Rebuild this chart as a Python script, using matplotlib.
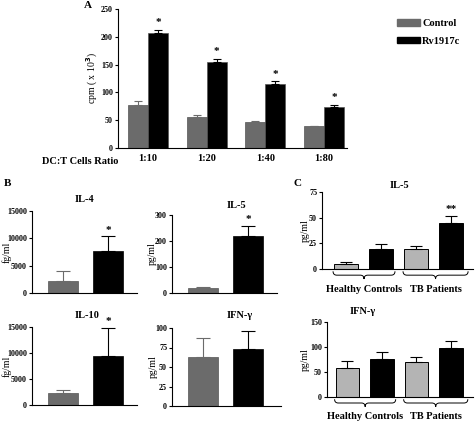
import matplotlib
matplotlib.use('Agg')
import matplotlib.pyplot as plt
from matplotlib.patches import Patch, PathPatch
from matplotlib.path import Path
import matplotlib.transforms as mtransforms
import numpy as np

plt.rcParams['font.family'] = ['Liberation Serif', 'DejaVu Serif']
plt.rcParams['font.weight'] = 'bold'
plt.rcParams['axes.linewidth'] = 0.8

W, H = 477, 421

# panel A data
ratios = ['1:10', '1:20', '1:40', '1:80']
a_control = [78, 56, 46, 39]
a_control_err = [6, 3, 2, 1]
a_rv = [207, 155, 115, 73]
a_rv_err = [5, 5, 5, 4]

# panel B data (control, Rv1917c)
il4 = [2200, 7700]
il4_err = [1800, 2700]
il5_b = [20, 220]
il5_b_err = [3, 38]
il10 = [2300, 9400]
il10_err = [600, 5400]
ifn_b = [63, 73]
ifn_b_err = [24, 23]

# panel C data (HC control, HC Rv, TB control, TB Rv)
il5_c = [5, 19.5, 19.5, 45]
il5_c_err = [2, 4.5, 3, 6.5]
ifn_c = [58, 76, 70, 99]
ifn_c_err = [15, 14, 11, 13]

gray_a = '#6b6b6b'
gray_c = '#b4b4b4'


def px_axes(left, top, right, bottom):
    return [left / W, 1 - bottom / H, (right - left) / W, (bottom - top) / H]


def ftext(x, y, s, **kw):
    fig.text(x / W, 1 - y / H, s, ha=kw.pop('ha', 'center'), va=kw.pop('va', 'center'), **kw)


def style(ax, yticks, ylim):
    ax.spines['top'].set_visible(False)
    ax.spines['right'].set_visible(False)
    ax.set_ylim(*ylim)
    ax.set_yticks(yticks)
    ax.tick_params(axis='y', length=2.5, width=0.8, labelsize=5.8, pad=1)
    ax.tick_params(axis='x', length=0)
    ax.set_xticks([])


def set_ylab(ax, rect, text, xpix):
    ax.set_ylabel(text, fontsize=7, va='center')
    ax.yaxis.set_label_coords((xpix - rect[0]) / (rect[2] - rect[0]), 0.5)


def brace(ax, x0, x1, ytop=-0.03, ybot=-0.13):
    trans = mtransforms.blended_transform_factory(ax.transData, ax.transAxes)
    xc = (x0 + x1) / 2
    ym = (ytop + ybot) / 2
    r = (x1 - x0) * 0.06
    verts = [(x0, ytop), (x0, ym), (x0 + r, ym), (xc - r, ym), (xc, ym), (xc, ybot),
             (xc, ym), (xc + r, ym), (x1 - r, ym), (x1, ym), (x1, ytop)]
    codes = [Path.MOVETO, Path.CURVE3, Path.CURVE3, Path.LINETO, Path.CURVE3, Path.CURVE3,
             Path.CURVE3, Path.CURVE3, Path.LINETO, Path.CURVE3, Path.CURVE3]
    p = PathPatch(Path(verts, codes), fill=False, lw=0.7, color='black',
                  transform=trans, clip_on=False)
    ax.add_patch(p)


fig = plt.figure(figsize=(W / 100, H / 100), dpi=100)

# ---- panel A
rectA = (118, 9, 347, 148)
axA = fig.add_axes(px_axes(*rectA))
x = np.arange(len(ratios))
bw = 0.34
axA.bar(x - bw / 2, a_control, bw, color=gray_a, edgecolor='#555555', lw=0.5,
        yerr=[np.zeros(4), a_control_err], error_kw=dict(ecolor=gray_a, capsize=3, elinewidth=0.8, capthick=0.8))
axA.bar(x + bw / 2, a_rv, bw, color='black', edgecolor='#555555', lw=0.5,
        yerr=[np.zeros(4), a_rv_err], error_kw=dict(ecolor='black', capsize=3, elinewidth=0.8, capthick=0.8))
for i in range(len(ratios)):
    axA.text(x[i] + bw / 2, a_rv[i] + a_rv_err[i] + 5, '*', ha='center', va='bottom', fontsize=8)
style(axA, [0, 50, 100, 150, 200, 250], (0, 250))
axA.set_xlim(-0.51, 3.39)
axA.set_xticks(x)
axA.set_xticklabels(ratios, fontsize=7.5)
axA.tick_params(axis='x', length=0, pad=4)
set_ylab(axA, rectA, 'cpm ( x 10$^3$)', 92)
ftext(80, 161, 'DC:T Cells Ratio', fontsize=7.5)
ftext(88, 6, 'A', fontsize=8)
fig.legend(handles=[Patch(color=gray_a, label='Control'), Patch(color='black', label='Rv1917c')],
           loc='upper left', bbox_to_anchor=(388 / W, 1 - 10 / H), frameon=False,
           fontsize=7.5, handlelength=2.2, handleheight=0.6, handletextpad=0.2, labelspacing=0.8)


def two_bar(rect, vals, errs, yticks, ylim, ylabel, ylab_x, title, title_xy, star, xlim):
    ax = fig.add_axes(px_axes(*rect))
    xs = np.arange(2)
    ax.bar(xs, vals, 0.667, color=[gray_a, 'black'], edgecolor=['#555555', 'black'], lw=0.5)
    ax.errorbar(xs[0], vals[0], yerr=[[0], [errs[0]]], fmt='none', ecolor=gray_a, capsize=5, elinewidth=0.8, capthick=0.8)
    ax.errorbar(xs[1], vals[1], yerr=[[0], [errs[1]]], fmt='none', ecolor='black', capsize=5, elinewidth=0.8, capthick=0.8)
    style(ax, yticks, ylim)
    ax.set_xlim(*xlim)
    set_ylab(ax, rect, ylabel, ylab_x)
    ftext(title_xy[0], title_xy[1], title, fontsize=7.5)
    if star:
        ax.text(1, vals[1] + errs[1] + ylim[1] * 0.02, '*', ha='center', va='bottom', fontsize=8, clip_on=False)
    return ax


two_bar((32, 211, 137, 293), il4, il4_err, [0, 5000, 10000, 15000], (0, 15000), 'fg/ml', 7, 'IL-4', (85, 200), True, (-0.69, 1.64))
two_bar((172, 215, 277, 293), il5_b, il5_b_err, [0, 100, 200, 300], (0, 300), 'pg/ml', 152, 'IL-5', (236, 205), True, (-0.69, 1.64))
two_bar((32, 327, 137, 405), il10, il10_err, [0, 5000, 10000, 15000], (0, 15000), 'fg/ml', 7, 'IL-10', (87, 315), True, (-0.69, 1.64))
two_bar((172, 328, 281, 406), ifn_b, ifn_b_err, [0, 25, 50, 75, 100], (0, 100), 'pg/ml', 153, 'IFN-γ', (240, 316), False, (-0.69, 1.73))
ftext(8, 183, 'B', fontsize=8)


def four_bar(rect, vals, errs, yticks, ylim, title, title_xy, xlim, star, ylab_x):
    ax = fig.add_axes(px_axes(*rect))
    xs = np.arange(4)
    cols = [gray_c, 'black', gray_c, 'black']
    ax.bar(xs, vals, 0.686, color=cols, edgecolor='black', lw=0.7)
    ax.errorbar(xs, vals, yerr=[np.zeros(4), errs], fmt='none', ecolor='black', capsize=4, elinewidth=0.8, capthick=0.8)
    style(ax, yticks, ylim)
    ax.set_xlim(*xlim)
    set_ylab(ax, rect, 'pg/ml', ylab_x)
    ftext(title_xy[0], title_xy[1], title, fontsize=7.5)
    if star:
        ax.text(3, vals[3] + errs[3] + ylim[1] * 0.03, '**', ha='center', va='bottom', fontsize=8)
    brace(ax, -0.37, 1.4)
    brace(ax, 1.63, 3.49)
    tr = mtransforms.blended_transform_factory(ax.transData, ax.transAxes)
    ax.text(0.51, -0.26, 'Healthy Controls', transform=tr, ha='center', va='center', fontsize=7.5)
    ax.text(2.56, -0.26, 'TB Patients', transform=tr, ha='center', va='center', fontsize=7.5)
    return ax


four_bar((322, 192, 473, 269), il5_c, il5_c_err, [0, 25, 50, 75], (0, 75), 'IL-5', (399, 186), (-0.686, 3.63), True, 305)
four_bar((327, 322, 473, 397), ifn_c, ifn_c_err, [0, 50, 100, 150], (0, 150), 'IFN-γ', (363, 312), (-0.59, 3.64), False, 305)
ftext(298, 184, 'C', fontsize=8)

fig.savefig('out.png', dpi=100)
